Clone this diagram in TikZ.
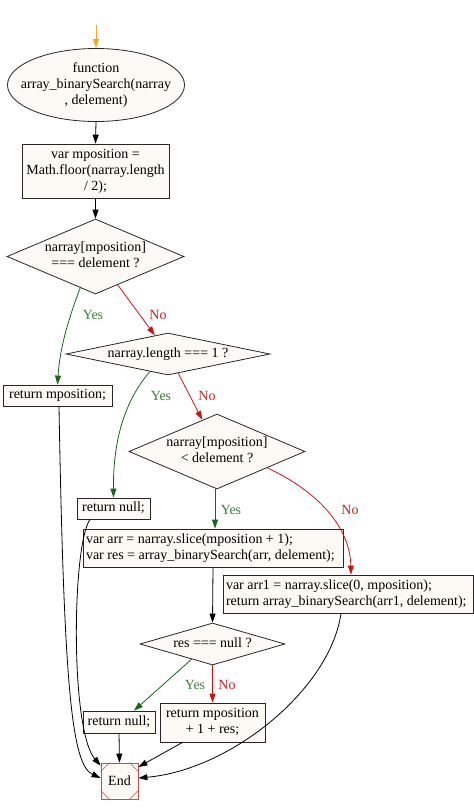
\documentclass[tikz,border=0pt]{standalone}
\usepackage{fontspec}
\setmainfont{Liberation Serif}
\usetikzlibrary{shapes.geometric,arrows.meta}
\definecolor{nfill}{HTML}{FDFAF5}
\definecolor{ygreen}{HTML}{17661B}
\definecolor{ylab}{HTML}{3A7D3A}
\definecolor{nred}{HTML}{CC1414}
\definecolor{nlab}{HTML}{C82020}
\definecolor{endred}{HTML}{C05050}
\definecolor{startor}{HTML}{F5A623}
\newcommand{\ctext}[1]{\makebox[0pt]{\begin{tabular}{@{}c@{}}#1\end{tabular}}}
\newcommand{\ltext}[2]{\makebox[#1][l]{\begin{tabular}{@{}l@{}}#2\end{tabular}}}
\begin{document}
\begin{tikzpicture}[x=1pt,y=-1pt,
  font=\fontsize{14}{16}\selectfont,
  base/.style={draw=black!85, fill=nfill, inner sep=0pt, line width=0.8pt},
  proc/.style={base, rectangle},
  dec/.style={base, diamond},
  term/.style={base, ellipse},
  arr/.style={line width=0.8pt, -{Triangle[length=9pt,width=6pt]}},
  yesarr/.style={arr, draw=ygreen},
  noarr/.style={arr, draw=nred},
  plain/.style={arr, draw=black},
  ylabel/.style={text=ylab, inner sep=0pt},
  nlabel/.style={text=nlab, inner sep=0pt}
]
\useasboundingbox (0,0) rectangle (474,812);

\coordinate (s0) at (96,25);
\node[term, minimum width=177pt, minimum height=73pt] (start) at (96,85)
  {\ctext{function\\array\_binarySearch(narray\\, delement)}};
\node[proc, minimum width=147pt, minimum height=54pt] (init) at (95.5,171)
  {\ctext{var mposition =\\Math.floor(narray.length\\/ 2);}};
\node[dec, minimum width=177pt, minimum height=75pt] (d1) at (95.5,256.5)
  {\ctext{narray[mposition]\\=== delement ?}};
\node[dec, minimum width=204pt, minimum height=42pt] (d2) at (168,354)
  {\ctext{narray.length === 1 ?}};
\node[proc, minimum width=109pt, minimum height=21pt] (retpos) at (57.5,395.5)
  {\ctext{return mposition;}};
\node[dec, minimum width=176pt, minimum height=75pt] (d3) at (217,451.5)
  {\ctext{narray[mposition]\\< delement ?}};
\node[proc, minimum width=73pt, minimum height=21pt] (retnull1) at (113.5,508.5)
  {\ctext{return null;}};
\node[proc, minimum width=260pt, minimum height=38pt] (right) at (213,548)
  {\ltext{254pt}{var arr = narray.slice(mposition + 1);\\var res = array\_binarySearch(arr, delement);}};
\node[proc, minimum width=250pt, minimum height=38pt] (left) at (348,594)
  {\ltext{244pt}{var arr1 = narray.slice(0, mposition);\\return array\_binarySearch(arr1, delement);}};
\node[dec, minimum width=145pt, minimum height=42pt] (d4) at (212.5,644)
  {\ctext{res === null ?}};
\node[proc, minimum width=72pt, minimum height=22pt] (retnull2) at (119,722)
  {\ctext{return null;}};
\node[proc, minimum width=105pt, minimum height=39pt] (retres) at (212.5,722.5)
  {\ctext{return mposition\\+ 1 + res;}};
\node[draw=endred, fill=nfill, line width=0.8pt, minimum width=37pt, minimum height=36pt, inner sep=0pt] (end) at (119.5,781) {End};
\draw[endred, line width=0.6pt]
  ([xshift=9pt]end.north west) -- ([yshift=-9pt]end.north west)
  ([xshift=-9pt]end.north east) -- ([yshift=-9pt]end.north east)
  ([xshift=9pt]end.south west) -- ([yshift=9pt]end.south west)
  ([xshift=-9pt]end.south east) -- ([yshift=9pt]end.south east);

% edges
\draw[arr, draw=startor] (s0) -- (start.north);
\draw[plain] (start.south) -- (init.north);
\draw[plain] (init.south) -- (d1.north);
\draw[yesarr] (d1.244) .. controls (70,315) and (60,345) .. (retpos.north);
\node[ylabel] (y1) at (93,315) {Yes};
\draw[noarr] (d1.-52) -- (d2.125);
\node[nlabel] (n1) at (158,315) {No};
\draw[yesarr] (d2.224) .. controls (130,395) and (113,430) .. (retnull1.north);
\node[ylabel] (y2) at (161,396) {Yes};
\draw[noarr] (d2.-62) -- (d3.115);
\node[nlabel] (n2) at (207,396) {No};
\draw[yesarr] ([xshift=-2pt]d3.south) -- ([xshift=-2pt]d3.south |- right.north);
\node[ylabel] (y3) at (231,510) {Yes};
\draw[noarr] (d3.-18) .. controls (315,490) and (350,525) .. ([xshift=3pt]left.north);
\node[nlabel] (n3) at (350,510) {No};
\draw[plain] (right.south) -- (d4.north);
\draw[yesarr] (d4.216) -- ([xshift=15pt]retnull2.north);
\node[ylabel] (y4) at (195,685) {Yes};
\draw[noarr] (d4.south) -- (retres.north);
\node[nlabel] (n4) at (227,685) {No};
\draw[plain] (retnull2.south) -- (end.north);
\draw[plain] ([xshift=-30pt]retres.south) -- ([yshift=14pt]end.east);
\draw[plain] ([xshift=-7pt]left.south) .. controls (330,690) and (230,770) .. ([yshift=3pt]end.east);
\draw[plain] ([xshift=1.5pt]retpos.south) .. controls (64,690) and (72,765) .. ([yshift=3pt]end.west);
\draw[plain] ([xshift=-23.5pt]retnull1.south) .. controls (72,545) and (70,730) .. ([yshift=-3pt]end.north west);
\end{tikzpicture}
\end{document}
